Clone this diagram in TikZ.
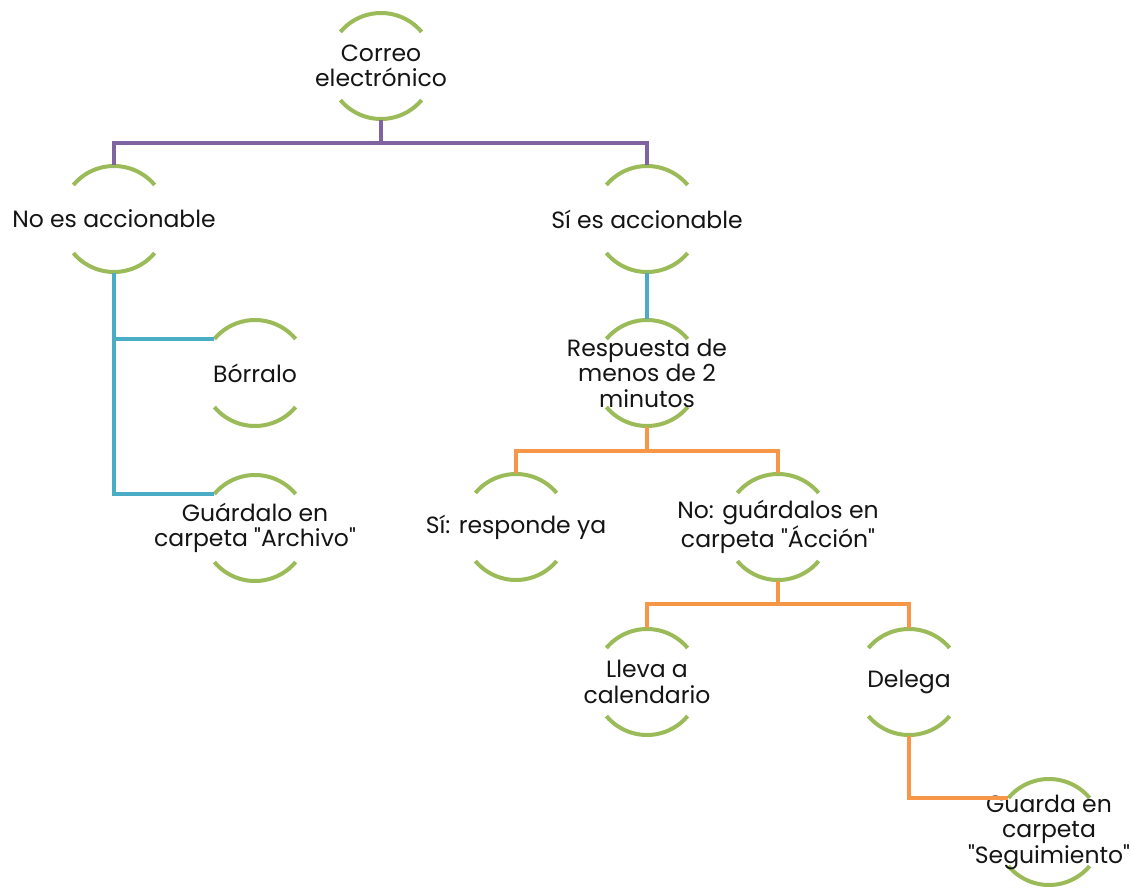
\documentclass[tikz,border=0pt]{standalone}
\usepackage{fontspec}
\setmainfont{Poppins}[Ligatures=TeXOff]
\usetikzlibrary{calc}

\definecolor{arcgreen}{HTML}{9BBB59}
\definecolor{linkpurple}{HTML}{8064A2}
\definecolor{linkblue}{HTML}{4BACC6}
\definecolor{linkorange}{HTML}{F79646}

\tikzset{
  itemtext/.style={font=\fontsize{23.5}{25.5}\selectfont, align=center, inner sep=0pt, text=black!92},
  arcline/.style={arcgreen, line width=4pt},
  link/.style={line width=4pt, line join=miter},
}

% one item: two green arcs around its text
\newcommand\mapnode[4]{%
  \draw[arcline] ($(#2,-#3)+(40:53)$) arc (40:140:53);
  \draw[arcline] ($(#2,-#3)+(220:53)$) arc (220:320:53);
  \node[itemtext] (#1) at (#2,-#3) {#4};
}

\begin{document}
\begin{tikzpicture}[x=1pt,y=1pt]
  \useasboundingbox (0,0) rectangle (1131,-888);

  \mapnode{root}{381}{66}{Correo\\electrónico}
  \mapnode{no}{114}{219}{No es accionable}
  \mapnode{si}{647}{219}{Sí es accionable}
  \mapnode{borr}{255}{373}{Bórralo}
  \mapnode{guard}{255}{528}{Guárdalo en\\carpeta "Archivo"}
  \mapnode{resp}{647}{373}{Respuesta de\\menos de 2\\minutos}
  \mapnode{syes}{516}{527}{Sí: responde ya}
  \mapnode{nog}{778}{527}{No: guárdalos en\\carpeta "Ácción"}
  \mapnode{lleva}{647}{682}{Lleva a\\calendario}
  \mapnode{deleg}{909}{682}{Delega}
  \mapnode{seg}{1049}{832}{Guarda en\\carpeta\\"Seguimiento"}

  % first level
  \draw[link, linkpurple] ([yshift=-54pt]root.center) -- ++(0,-23) -| ([yshift=54pt]no.center);
  \draw[link, linkpurple] ([yshift=-54pt]root.center) -- ++(0,-23) -| ([yshift=54pt]si.center);

  % not actionable
  \draw[link, linkblue] ([yshift=-54pt]no.center) |- ($(borr.center)+(140:53)$);
  \draw[link, linkblue] ([yshift=-54pt]no.center) |- ($(guard.center)+(140:53)$);

  % actionable
  \draw[link, linkblue] ([yshift=-54pt]si.center) -- ([yshift=54pt]resp.center);
  \draw[link, linkorange] ([yshift=-54pt]resp.center) -- ++(0,-24) -| ([yshift=54pt]syes.center);
  \draw[link, linkorange] ([yshift=-54pt]resp.center) -- ++(0,-24) -| ([yshift=54pt]nog.center);
  \draw[link, linkorange] ([yshift=-54pt]nog.center) -- ++(0,-23) -| ([yshift=54pt]lleva.center);
  \draw[link, linkorange] ([yshift=-54pt]nog.center) -- ++(0,-23) -| ([yshift=54pt]deleg.center);
  \draw[link, linkorange] ([yshift=-54pt]deleg.center) |- ($(seg.center)+(140:53)$);
\end{tikzpicture}
\end{document}
